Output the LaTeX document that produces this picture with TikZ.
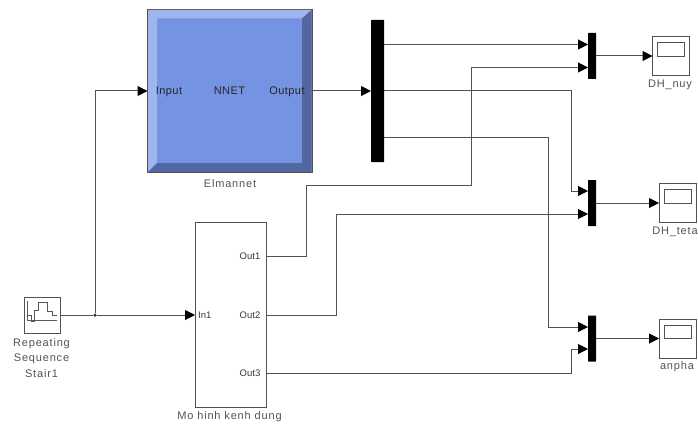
\documentclass[tikz,border=0pt]{standalone}
\usepackage{fontspec}
\setmainfont{Liberation Sans}
\newfontfamily\captionfont[LetterSpace=7.5]{Liberation Sans}
\newfontfamily\nnetfont[LetterSpace=4]{Liberation Sans}
\usetikzlibrary{arrows.meta}
\definecolor{nnetfill}{HTML}{7493E3}
\definecolor{nnetlight}{HTML}{A0B4EE}
\definecolor{nnetdark}{HTML}{54669F}
\tikzset{
  wire/.style={draw=black!68, line width=1pt, -{Triangle[length=10pt,width=10pt,color=black]}},
  plainwire/.style={draw=black!68, line width=1pt},
  blockbox/.style={draw=black!68, line width=1pt, fill=white, inner sep=0pt, outer sep=0pt},
  barblock/.style={fill=black, inner sep=0pt, outer sep=0pt, rounded corners=0.5pt},
  caption/.style={text=black!68, font=\captionfont\fontsize{11}{12}\selectfont, inner sep=0pt, align=center},
  portlabel/.style={text=black!78, font=\fontsize{9.5}{11}\selectfont, inner sep=0pt},
  nnetlabel/.style={text=black!85, font=\nnetfont\fontsize{11}{12}\selectfont, inner sep=0pt},
}
\begin{document}
\begin{tikzpicture}[x=1pt,y=-1pt]
\useasboundingbox (0,0) rectangle (698,425);
% neural network block
\node[blockbox, fill=nnetfill, minimum width=164.5pt, minimum height=163pt] (elman) at (229.75,91) {};
\fill[nnetlight] (148,10) -- (311.5,10) -- (302,18.5) -- (157,18.5) -- (157,163) -- (148,172) -- cycle;
\fill[nnetdark] (311.5,10) -- (311.5,172) -- (148,172) -- (157,163) -- (302,163) -- (302,18.5) -- cycle;
\node[nnetlabel] (input) at (169,92) {Input};
\node[nnetlabel] (nnet) at (229.5,91) {NNET};
\node[nnetlabel] (output) at (287,92) {Output};
\node[caption] (elmanname) at (230,183.5) {Elmannet};
% source block
\node[blockbox, minimum width=36pt, minimum height=36pt] (source) at (42,315) {};
\draw[black!65, line width=0.7pt] (27.5,301) -- (27.5,320) -- (57,320);
\draw[black!65, line width=0.8pt] (27.5,315) -- (31,315) -- (31,321) -- (34,321) -- (34,310) -- (38,310) -- (38,302) -- (47,302) -- (47,311) -- (52,311) -- (52,315) -- (57,315);
\node[caption] (sourcename) at (41.5,358) {Repeating\\[3.6pt]Sequence\\[3.6pt]Stair1};
% subsystem block
\node[blockbox, minimum width=71pt, minimum height=185.5pt] (plant) at (230.5,315) {};
\node[portlabel, anchor=west] (inone) at (198,315) {In1};
\node[portlabel, anchor=east] (outone) at (260.5,256) {Out1};
\node[portlabel, anchor=east] (outtwo) at (260.5,315) {Out2};
\node[portlabel, anchor=east] (outthree) at (260.5,373.5) {Out3};
\node[caption] (plantname) at (229.5,417) {Mo hinh kenh dung};
% demux and mux bars
\node[barblock, minimum width=13pt, minimum height=142pt] (demux) at (377.5,91) {};
\node[barblock, minimum width=8pt, minimum height=46pt] (muxnuy) at (592,56) {};
\node[barblock, minimum width=8pt, minimum height=46pt] (muxteta) at (592,203) {};
\node[barblock, minimum width=8pt, minimum height=46pt] (muxanpha) at (592,338.5) {};
% scopes
\node[blockbox, minimum width=37pt, minimum height=39pt] (scopenuy) at (671,56) {};
\node[blockbox, minimum width=27pt, minimum height=13.5pt] (screennuy) at (671,49.5) {};
\node[caption] (nuyname) at (670,85) {DH\_nuy};
\node[blockbox, minimum width=37pt, minimum height=39pt] (scopeteta) at (677.5,203) {};
\node[blockbox, minimum width=27pt, minimum height=13.5pt] (screenteta) at (677.5,196.5) {};
\node[caption] (tetaname) at (675,232) {DH\_teta};
\node[blockbox, minimum width=37pt, minimum height=39pt] (scopeanpha) at (677.5,338.5) {};
\node[blockbox, minimum width=27pt, minimum height=13.5pt] (screenanpha) at (677.5,332) {};
\node[caption] (anphaname) at (677,367) {anpha};
% ports on the bars
\coordinate (nuya) at (588,44.5);
\coordinate (nuyb) at (588,67.5);
\coordinate (tetaa) at (588,191);
\coordinate (tetab) at (588,214);
\coordinate (anphaa) at (588,327);
\coordinate (anphab) at (588,349);
\coordinate (demuxa) at (384,44.5);
\coordinate (demuxb) at (384,91);
\coordinate (demuxc) at (384,137);
\node[circle, fill=black!80, inner sep=0pt, minimum size=3.5pt] (branch) at (95,315) {};
% connectors
\draw[plainwire] (source.east) -- (branch);
\draw[wire] (branch) -- (inone.west -| plant.west);
\draw[wire] (branch) -- (95,91) -- (elman.west);
\draw[wire] (elman.east) -- (demux.west);
\draw[wire] (demuxa) -- (nuya);
\draw[wire] (demuxb) -- (571,91) -- (571,191) -- (tetaa);
\draw[wire] (demuxc) -- (548,137) -- (548,327) -- (anphaa);
\draw[wire] (outone.east -| plant.east) -- (306,256) -- (306,185) -- (471,185) -- (471,67.5) -- (nuyb);
\draw[wire] (outtwo.east -| plant.east) -- (336,315) -- (336,214) -- (tetab);
\draw[wire] (outthree.east -| plant.east) -- (571,373.5) -- (571,349) -- (anphab);
\draw[wire] (muxnuy.east) -- (scopenuy.west);
\draw[wire] (muxteta.east) -- (scopeteta.west);
\draw[wire] (muxanpha.east) -- (scopeanpha.west);
\end{tikzpicture}
\end{document}
